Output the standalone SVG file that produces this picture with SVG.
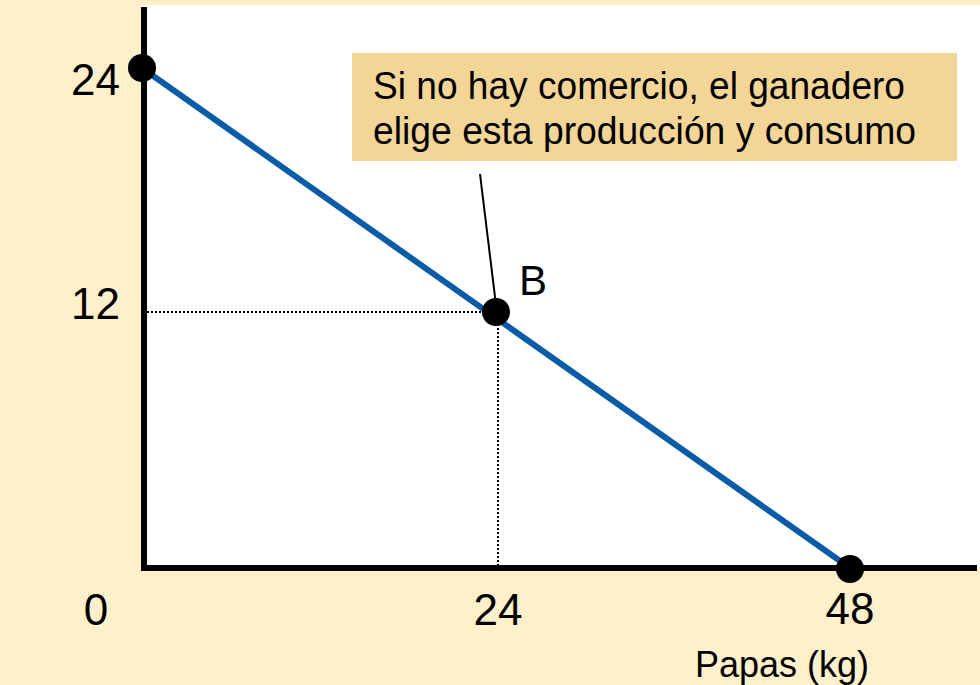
<svg xmlns="http://www.w3.org/2000/svg" width="980" height="685" viewBox="0 0 980 685">
<style>
text{font-family:"Liberation Sans",Arial,sans-serif;fill:#000}
.num{font-size:44px}
.callout{font-size:39px}
.dot{fill:#000}
.guide{stroke:#000;stroke-width:2;stroke-dasharray:2 2;fill:none}
.axis{stroke:#000;stroke-width:6;fill:none}
</style>
<rect x="0" y="0" width="980" height="685" fill="#FEF0CA"/>
<rect x="141" y="5" width="839" height="563" fill="#FFFFFF"/>
<g id="guides">
<line class="guide" x1="147" y1="312" x2="496" y2="312"/>
<line class="guide" x1="498" y1="312" x2="498" y2="565"/>
</g>
<g id="axes">
<line class="axis" x1="144" y1="7" x2="144" y2="571"/>
<line class="axis" x1="141" y1="568" x2="977" y2="568"/>
</g>
<g id="connectors">
<line x1="142" y1="68" x2="850" y2="568" stroke="#0B5CA8" stroke-width="6"/>
<line x1="480" y1="174" x2="496" y2="305" stroke="#000" stroke-width="2"/>
</g>
<g id="callout">
<rect x="352" y="53" width="605" height="108" fill="#F2D597"/>
<text class="callout" x="373" y="99" textLength="532" lengthAdjust="spacingAndGlyphs">Si no hay comercio, el ganadero</text>
<text class="callout" x="373" y="144" textLength="543" lengthAdjust="spacingAndGlyphs">elige esta producción y consumo</text>
</g>
<g id="point-top"><circle class="dot" cx="142" cy="68" r="14"/></g>
<g id="point-B"><circle class="dot" cx="496" cy="312" r="14"/><text x="519" y="295" font-size="42">B</text></g>
<g id="point-bottom"><circle class="dot" cx="850" cy="569" r="14"/></g>
<g id="labels">
<text class="num" x="120" y="95" text-anchor="end">24</text>
<text class="num" x="120" y="319" text-anchor="end">12</text>
<text class="num" x="96" y="625" text-anchor="middle">0</text>
<text class="num" x="498" y="625" text-anchor="middle">24</text>
<text class="num" x="850" y="624" text-anchor="middle">48</text>
<text x="695" y="677" font-size="36">Papas (kg)</text>
</g>
</svg>
